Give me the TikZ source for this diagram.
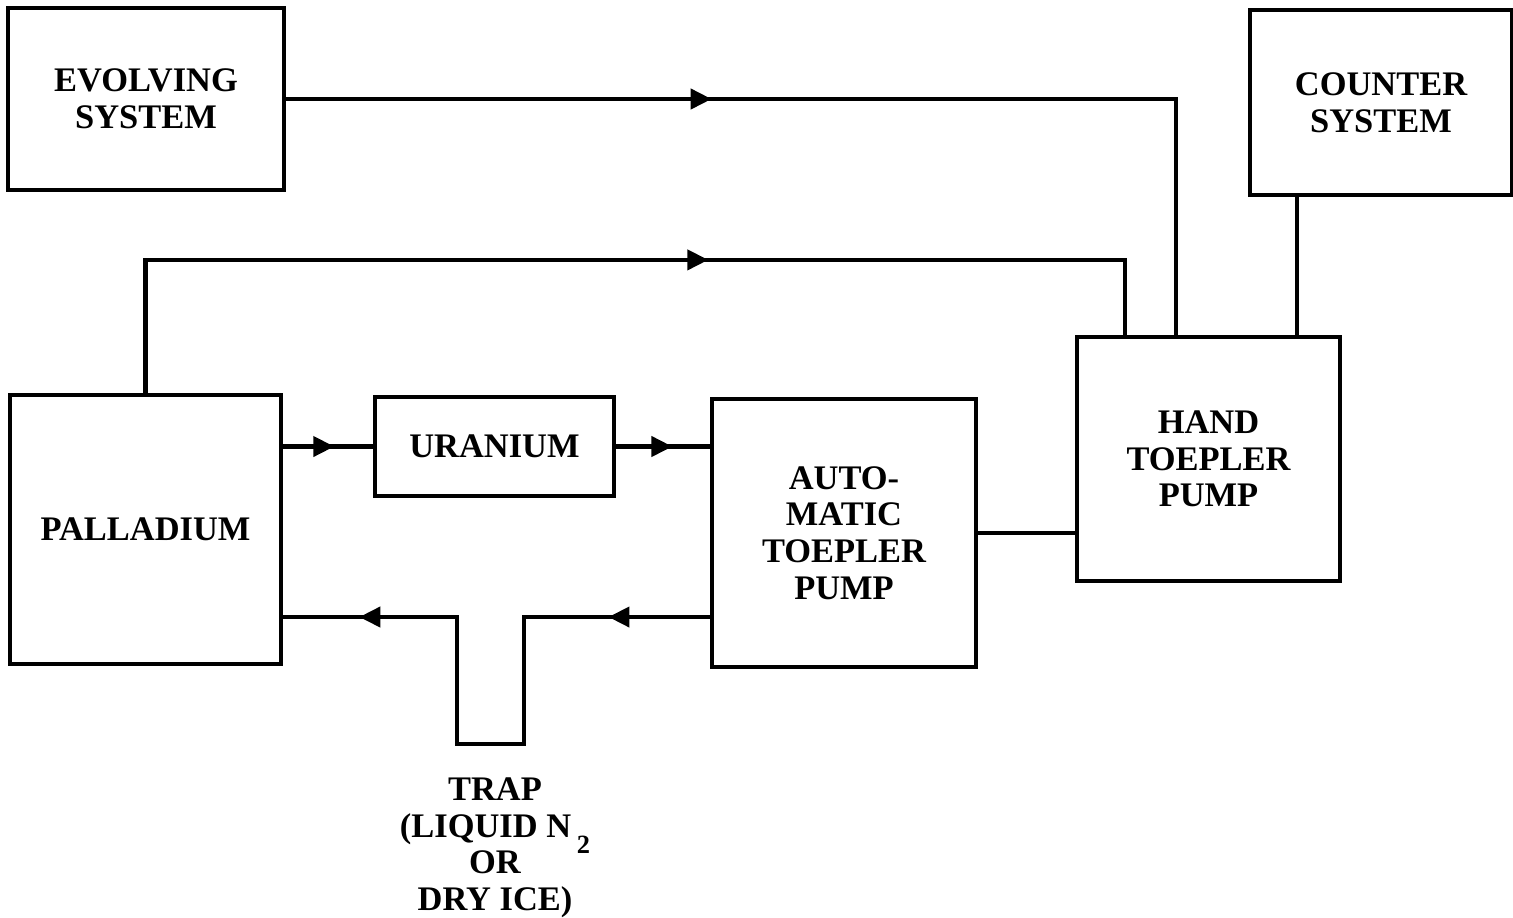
\documentclass[tikz,border=0pt]{standalone}
\usepackage{fontspec}
\setmainfont{Liberation Serif}
\usetikzlibrary{arrows.meta,calc,decorations.markings}

\tikzset{
  unit/.style={draw,line width=1.2pt,align=center,inner sep=0pt,
    font=\bfseries\fontsize{9.8}{10.4}\selectfont},
  pipe/.style={line width=1.2pt},
  flowarrow/.style={postaction={decorate,decoration={markings,
    mark=at position #1 with {\arrow{Triangle[length=0.21cm,width=0.2cm]}}}}},
}

\begin{document}
\begin{tikzpicture}
    \useasboundingbox (0,0) rectangle (15.13,-9.17);
    \node[unit,minimum width=2.76cm,minimum height=1.82cm] (evolve) at (1.46,-0.99) {EVOLVING\\SYSTEM};
    \node[unit,minimum width=2.62cm,minimum height=1.85cm] (counter) at (13.81,-1.025) {COUNTER\\SYSTEM};
    \node[unit,minimum width=2.71cm,minimum height=2.69cm] (pallad) at (1.455,-5.295) {PALLADIUM};
    \node[unit,minimum width=2.39cm,minimum height=0.99cm] (uran) at (4.945,-4.465) {URANIUM};
    \node[unit,minimum width=2.64cm,minimum height=2.68cm] (auto) at (8.44,-5.33) {AUTO-\\MATIC\\TOEPLER\\PUMP};
    \node[unit,minimum width=2.63cm,minimum height=2.44cm] (hand) at (12.085,-4.59) {HAND\\TOEPLER\\PUMP};
    \node[unit,draw=none,anchor=north] (trap) at (4.95,-7.76)
        {TRAP\\(LIQUID N\,\smash{\raisebox{-4.5pt}{\fontsize{7.5}{7.5}\selectfont 2}}\\OR\\DRY ICE)};
    \draw[pipe,flowarrow=0.378] (evolve.east) -| ($(hand.north west)+(1.01,0)$);
    \draw[pipe,flowarrow=0.586] (pallad.north) |- ($(hand.north west)+(0.5,0.75)$) -- ($(hand.north west)+(0.5,0)$);
    \coordinate (cs) at ($(counter.south west)+(0.49,0)$);
    \draw[pipe] (cs) -- (cs |- hand.north);
    \draw[pipe,flowarrow=0.57] (uran.west -| pallad.east) -- (uran.west);
    \draw[pipe,flowarrow=0.6] (uran.east) -- (uran.east -| auto.west);
    \draw[pipe] (auto.east) -- (auto.east -| hand.west);
    \coordinate (ret) at ($(auto.west)+(0,-0.84)$);
    \draw[pipe,flowarrow=0.149,flowarrow=0.888] (ret) -- ++(-1.86,0) -- ++(0,-1.27) -- ++(-0.67,0)
        -- ++(0,1.27) -- (ret -| pallad.east);
\end{tikzpicture}
\end{document}
